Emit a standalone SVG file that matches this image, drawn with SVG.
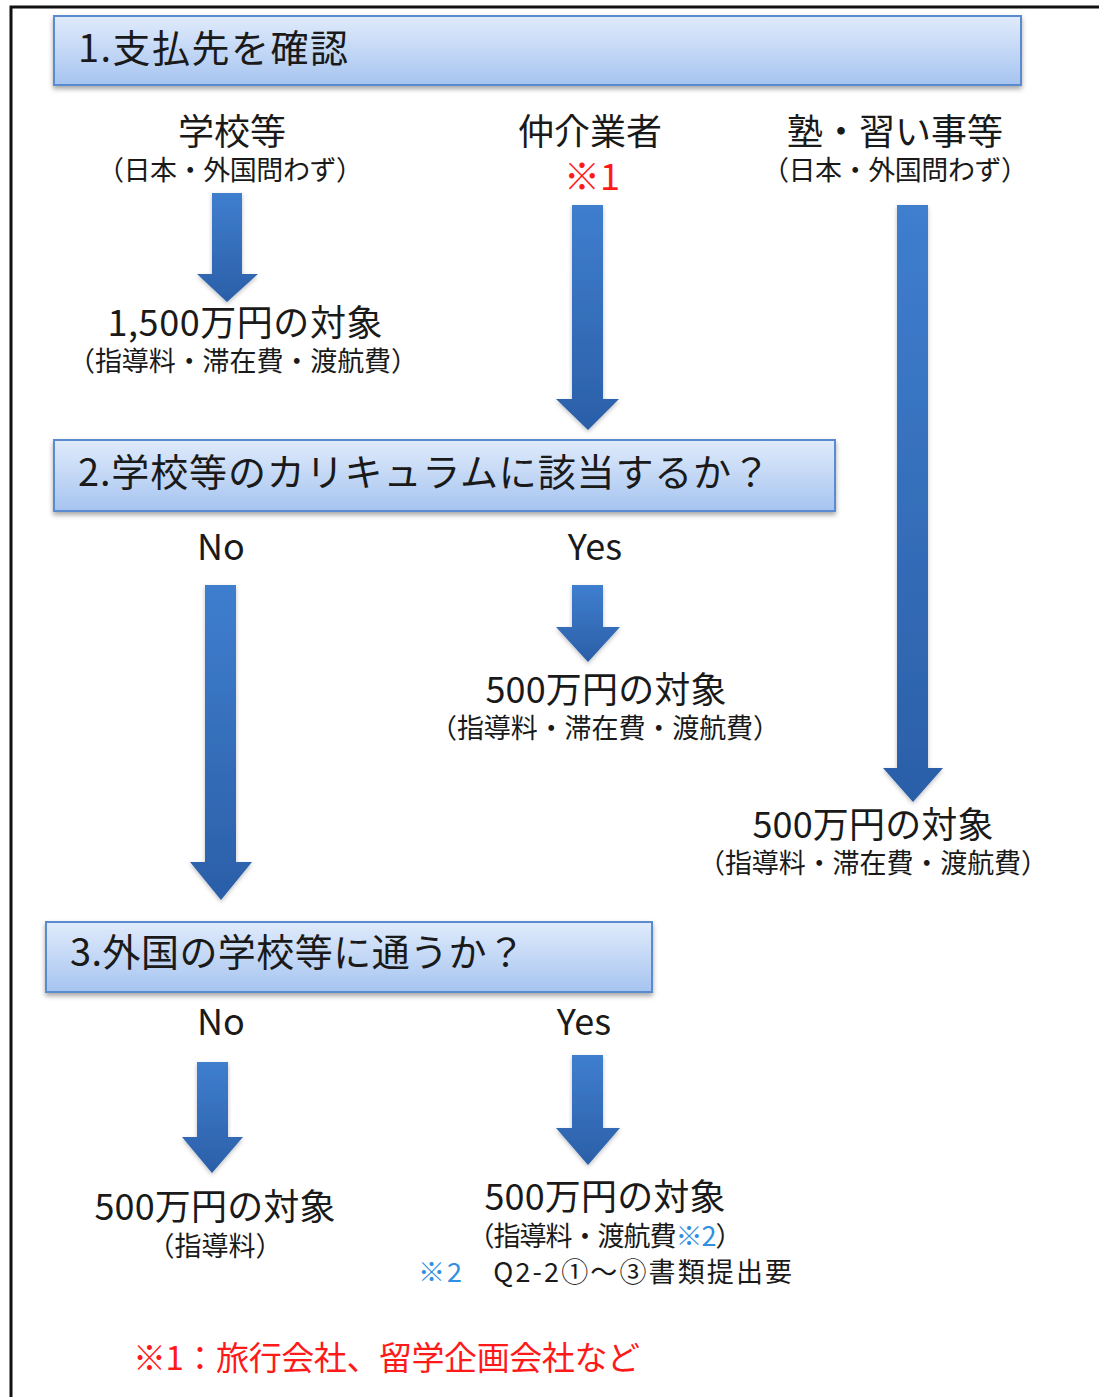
<svg xmlns="http://www.w3.org/2000/svg" width="1099" height="1397" viewBox="0 0 1099 1397">
<style>
text{font-family:"Meiryo","Noto Sans CJK JP","Noto Sans",sans-serif;fill:#1a1a1a}
.t{font-size:38px}
.m{font-size:36px;text-anchor:middle}
.s{font-size:27px;text-anchor:middle}
.red{fill:#ff1a1a}
.blue{fill:#2f8fe0}
.box{fill:url(#bg);stroke:#5a8ad0;stroke-width:2;filter:url(#sh)}
.arr{fill:url(#ag);filter:url(#ash)}
</style>
<defs>
<linearGradient id="bg" x1="0" y1="0" x2="0" y2="1">
<stop offset="0" stop-color="#e0ebfb"/>
<stop offset="1" stop-color="#a6c4f0"/>
</linearGradient>
<linearGradient id="ag" x1="0" y1="0" x2="0" y2="1">
<stop offset="0" stop-color="#3f7ece"/>
<stop offset="1" stop-color="#2b5fa8"/>
</linearGradient>
<filter id="sh" x="-5%" y="-20%" width="110%" height="150%">
<feDropShadow dx="0" dy="3" stdDeviation="2.5" flood-color="#000" flood-opacity="0.35"/>
</filter>
<filter id="ash" x="-30%" y="-10%" width="160%" height="120%">
<feDropShadow dx="0" dy="2" stdDeviation="2" flood-color="#000" flood-opacity="0.25"/>
</filter>
</defs>
<rect width="1099" height="1397" fill="#fff"/>
<path d="M11 1397V7H1099" fill="none" stroke="#111" stroke-width="3"/>

<g id="connectors">
<polygon class="arr" points="212,193 242,193 242,274 258,274 227,302 197,274 212,274"/>
<polygon class="arr" points="572,205 603,205 603,399 619,399 588,430 556,399 572,399"/>
<polygon class="arr" points="897,205 928,205 928,768 943,768 913,802 883,768 897,768"/>
<polygon class="arr" points="205,585 236,585 236,862 252,862 221,900 190,862 205,862"/>
<polygon class="arr" points="572,585 603,585 603,627 620,627 588,662 556,627 572,627"/>
<polygon class="arr" points="197,1062 228,1062 228,1137 243,1137 212,1173 182,1137 197,1137"/>
<polygon class="arr" points="572,1055 603,1055 603,1128 620,1128 588,1165 556,1128 572,1128"/>
</g>

<g id="step1">
<rect class="box" x="54" y="16" width="967" height="69"/>
<text class="t" x="78" y="62" textLength="270">1.支払先を確認</text>
</g>
<g id="school">
<text class="m" x="232" y="145">学校等</text>
<text class="s" x="230" y="180" textLength="266">（日本・外国問わず）</text>
</g>
<g id="broker">
<text class="m" x="590" y="145">仲介業者</text>
<text class="m red" x="592" y="190">※1</text>
</g>
<g id="juku">
<text class="m" x="895" y="145">塾・習い事等</text>
<text class="s" x="895" y="180" textLength="266">（日本・外国問わず）</text>
</g>
<g id="r1500">
<text class="m" x="245" y="336" textLength="275">1,500万円の対象</text>
<text class="s" x="243" y="371" textLength="350">（指導料・滞在費・渡航費）</text>
</g>
<g id="step2">
<rect class="box" x="54" y="440" width="781" height="71"/>
<text class="t" x="78" y="486" textLength="692">2.学校等のカリキュラムに該当するか？</text>
</g>
<g id="no2"><text class="m" x="221" y="560">No</text></g>
<g id="yes2"><text class="m" x="595" y="560">Yes</text></g>
<g id="r500a">
<text class="m" x="606" y="703" textLength="241">500万円の対象</text>
<text class="s" x="605" y="738" textLength="350">（指導料・滞在費・渡航費）</text>
</g>
<g id="r500b">
<text class="m" x="873" y="838" textLength="241">500万円の対象</text>
<text class="s" x="873" y="873" textLength="350">（指導料・滞在費・渡航費）</text>
</g>
<g id="step3">
<rect class="box" x="46" y="922" width="606" height="70"/>
<text class="t" x="70" y="966" textLength="455">3.外国の学校等に通うか？</text>
</g>
<g id="no3"><text class="m" x="221" y="1035">No</text></g>
<g id="yes3"><text class="m" x="584" y="1035">Yes</text></g>
<g id="r500c">
<text class="m" x="215" y="1220" textLength="241">500万円の対象</text>
<text class="s" x="215" y="1256">（指導料）</text>
</g>
<g id="r500d">
<text class="m" x="605" y="1210" textLength="241">500万円の対象</text>
<text class="s" x="605" y="1246" textLength="275">（指導料・渡航費<tspan class="blue">※2</tspan>）</text>
<text x="418" y="1282" style="font-size:27px" textLength="374"><tspan class="blue">※2</tspan>　Q2-2①～③書類提出要</text>
</g>
<g id="note1">
<text class="red" x="133" y="1370" style="font-size:33px" textLength="507">※1：旅行会社、留学企画会社など</text>
</g>
</svg>
